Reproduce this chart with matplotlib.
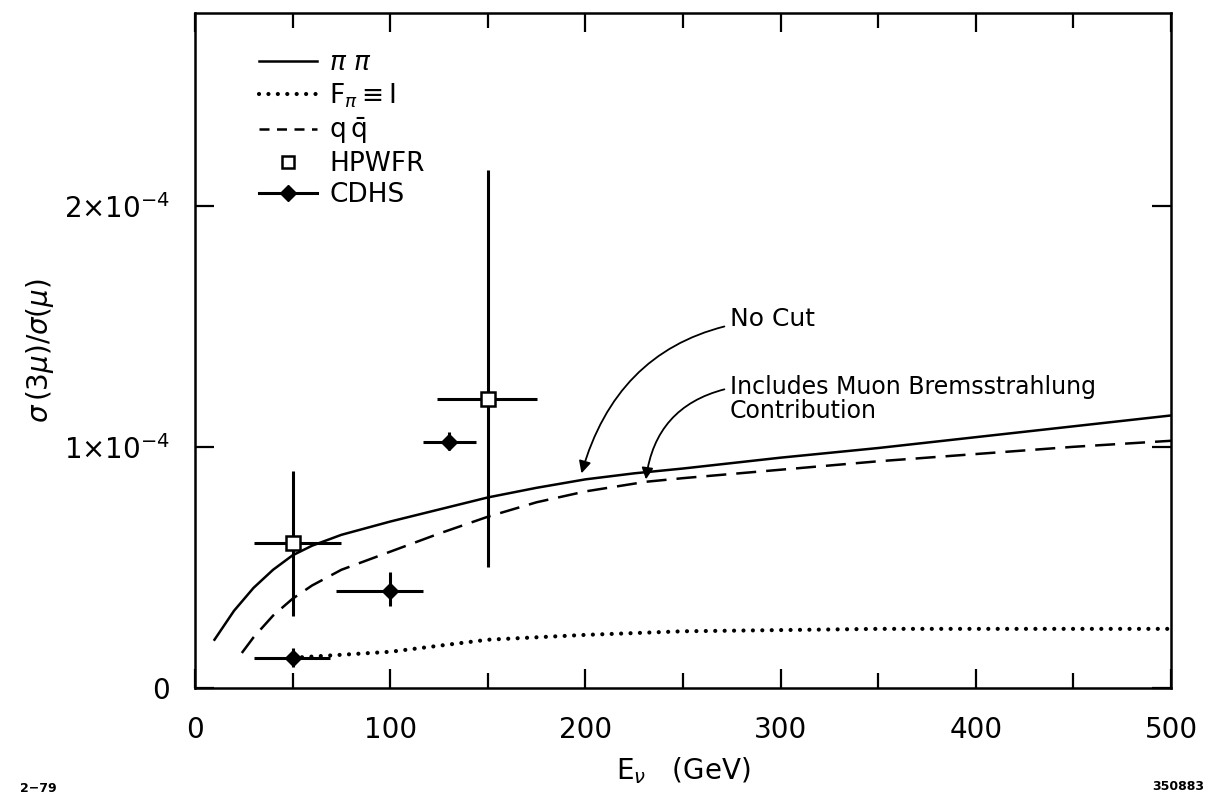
import matplotlib.pyplot as plt
import numpy as np
from matplotlib.lines import Line2D

plt.rcParams['font.family'] = ['DejaVu Sans']
plt.rcParams['mathtext.fontset'] = 'dejavusans'

# curves, y in units of 1e-4
pipi_x = [10, 20, 30, 40, 50, 60, 75, 100, 125, 150, 175, 200, 225, 250,
          300, 350, 400, 450, 500]
pipi_y = [0.20, 0.32, 0.415, 0.49, 0.55, 0.59, 0.635, 0.69, 0.74, 0.79, 0.83,
          0.865, 0.89, 0.91, 0.955, 0.995, 1.04, 1.085, 1.13]

qq_x = [24, 30, 40, 50, 60, 75, 100, 125, 150, 175, 200, 231, 250, 300, 350,
        400, 450, 500]
qq_y = [0.145, 0.21, 0.30, 0.37, 0.425, 0.49, 0.565, 0.64, 0.71, 0.77, 0.815,
        0.855, 0.87, 0.905, 0.94, 0.97, 1.0, 1.025]

fpi_x = [50, 70, 100, 125, 150, 200, 250, 300, 350, 400, 450, 500]
fpi_y = [0.125, 0.135, 0.15, 0.175, 0.20, 0.22, 0.235, 0.24, 0.245, 0.245, 0.245, 0.245]

# HPWFR points
hp_x = [50, 150]
hp_y = [0.6, 1.2]
hp_xlo = [30, 124]
hp_xhi = [75, 175]
hp_ylo = [0.3, 0.5]
hp_yhi = [0.9, 2.15]

# CDHS points
cd_x = [50, 100, 130]
cd_y = [0.125, 0.40, 1.02]
cd_xlo = [30, 72, 117]
cd_xhi = [69, 117, 144]
cd_ylo = [0.085, 0.34, 0.985]
cd_yhi = [0.165, 0.48, 1.06]

scale = 1e-4

fig = plt.figure(figsize=(12.11, 7.99), dpi=100)
ax = fig.add_axes([0.161, 0.139, 0.806, 0.845])

lw = 1.8
dot_style = dict(lw=3.0, dashes=(0.01, 2.25), dash_capstyle='round')
ax.plot(pipi_x, np.array(pipi_y) * scale, color='black', lw=lw)
ax.plot(qq_x, np.array(qq_y) * scale, color='black', lw=lw, dashes=(8, 4))
ax.plot(fpi_x, np.array(fpi_y) * scale, color='black', **dot_style)

def xerr(x, lo, hi):
    x = np.array(x)
    return [x - np.array(lo), np.array(hi) - x]

def yerr(y, lo, hi):
    y = np.array(y)
    return [(y - np.array(lo)) * scale, (np.array(hi) - y) * scale]

ax.errorbar(cd_x, np.array(cd_y) * scale, xerr=xerr(cd_x, cd_xlo, cd_xhi),
            yerr=yerr(cd_y, cd_ylo, cd_yhi), fmt='D', color='black',
            ms=8, elinewidth=2.2, capsize=0, zorder=4)
ax.errorbar(hp_x, np.array(hp_y) * scale, xerr=xerr(hp_x, hp_xlo, hp_xhi),
            yerr=yerr(hp_y, hp_ylo, hp_yhi), fmt='s', color='black',
            mfc='white', mec='black', mew=1.8, ms=10, elinewidth=2.2,
            capsize=0, zorder=5)

ax.set_xlim(0, 500)
ax.set_ylim(0, 2.80 * scale)

ax.set_xticks([0, 100, 200, 300, 400, 500])
ax.set_xticks([50, 150, 250, 350, 450], minor=True)
ax.set_yticks([0, 1e-4, 2e-4])
ax.set_yticklabels(['0', r'$1{\times}10^{-4}$', r'$2{\times}10^{-4}$'])
ax.tick_params(which='both', direction='in', top=True, right=True,
               labelsize=20, width=1.6)
ax.tick_params(which='major', length=14)
ax.tick_params(which='minor', length=11)
ax.tick_params(axis='x', pad=20)
ax.tick_params(axis='y', pad=18)
for s in ax.spines.values():
    s.set_linewidth(1.8)

ax.set_xlabel(r'$\mathrm{E}_\nu$   (GeV)', fontsize=20, labelpad=8)
ax.set_ylabel(r'$\sigma\,(3\mu)/\sigma(\mu)$', fontsize=20, labelpad=6)

# annotations
ax.annotate('No Cut', xy=(198, 0.89 * scale), xytext=(274, 1.53 * scale),
            fontsize=18, va='center', ha='left',
            arrowprops=dict(arrowstyle='-|>', color='black', lw=1.3,
                            connectionstyle='arc3,rad=0.35',
                            shrinkA=2, shrinkB=0))
ax.annotate('Includes Muon Bremsstrahlung\nContribution', xy=(231, 0.865 * scale),
            xytext=(274, 1.20 * scale), fontsize=17, va='center', ha='left',
            linespacing=1.0,
            arrowprops=dict(arrowstyle='-|>', color='black', lw=1.3,
                            connectionstyle='arc3,rad=0.35',
                            relpos=(0, 0.72), shrinkA=2, shrinkB=0))

# legend
handles = [
    Line2D([], [], color='black', lw=lw),
    Line2D([], [], color='black', **dot_style),
    Line2D([], [], color='black', lw=lw, dashes=(4, 3)),
    Line2D([], [], ls='none', marker='s', mfc='white', mec='black', mew=1.8, ms=8),
    Line2D([], [], color='black', lw=2.2, marker='D', ms=8),
]
labels = [r'$\pi\ \pi$', r'F$_\pi\equiv$I', r'q$\,\bar{\mathrm{q}}$', 'HPWFR', 'CDHS']
ax.legend(handles, labels, loc='upper left', bbox_to_anchor=(0.055, 0.96),
          frameon=False, fontsize=19, handlelength=2.2, handletextpad=0.45,
          labelspacing=0.2, borderaxespad=0)

fig.text(20 / 1211, 1 - 788 / 799, '2\u221279', fontsize=9, fontweight='bold',
         va='center')
fig.text(1204 / 1211, 1 - 786 / 799, '350883', fontsize=9, fontweight='bold',
         va='center', ha='right')

fig.savefig('out.png', dpi=100)
